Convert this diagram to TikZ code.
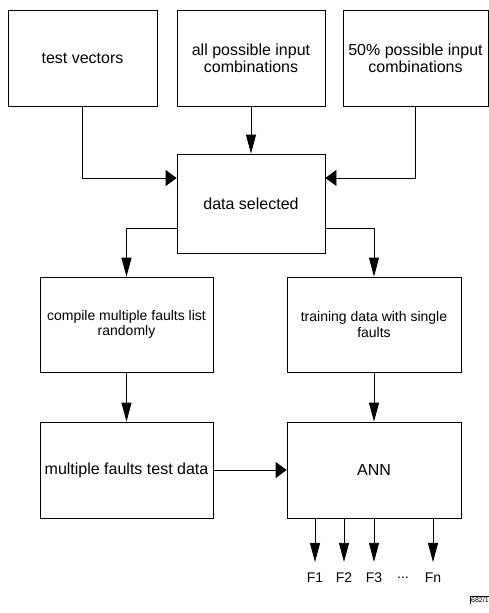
\documentclass[tikz,border=0pt]{standalone}
\usepackage{fontspec}
\setmainfont{Liberation Sans}
\usetikzlibrary{arrows.meta}
\tikzset{
  flowbox/.style={draw, line width=0.8pt, align=center, inner sep=1pt, font=\fontsize{16}{17}\selectfont},
  smallbox/.style={flowbox, font=\fontsize{14}{15.5}\selectfont},
  outlbl/.style={inner sep=1pt, font=\fontsize{14}{15}\selectfont},
  varr/.style={line width=0.8pt, -{Triangle[length=19pt,width=10pt]}},
  harr/.style={line width=0.8pt, -{Triangle[length=11pt,width=16pt]}},
}
\begin{document}
\begin{tikzpicture}[x=1pt,y={(0pt,-1pt)}]
\useasboundingbox (0,0) rectangle (489,613);
\node[flowbox, minimum width=149pt, minimum height=96pt] (tv) at (82.5,58) {test vectors};
\node[flowbox, minimum width=148pt, minimum height=96pt] (allin) at (251,58) {all possible input\\combinations};
\node[flowbox, minimum width=145pt, minimum height=96pt] (half) at (415.5,58) {50\% possible input\\combinations};
\node[flowbox, minimum width=148pt, minimum height=99pt] (dsel) at (251,203.5) {data selected};
\node[smallbox, minimum width=173pt, minimum height=95pt] (comp) at (126.5,324.5) {compile multiple faults list\\randomly};
\node[smallbox, minimum width=174pt, minimum height=95pt] (train) at (374,324.5) {training data with single\\faults};
\node[flowbox, minimum width=173pt, minimum height=96pt] (mult) at (126.5,470) {multiple faults test data};
\node[flowbox, minimum width=174pt, minimum height=96pt] (ann) at (374,470) {ANN};
% outputs of the network
\foreach \name/\x/\lbl in {f1/315/F1, f2/344/F2, f3/374/F3, fn/433/Fn}
  \node[outlbl] (\name) at (\x,578) {\lbl};
\node[outlbl] (dots) at (403,578) {...};
\node[inner sep=1pt, anchor=west, font=\fontsize{7}{8}\selectfont] (tag) at (470,600) {682/1};
\draw[line width=0.5pt] (tag.south west) |- (tag.north east);
% connectors
\draw[harr] (tv.south) |- ([yshift=25.5pt]dsel.west);
\draw[varr] (allin) -- (dsel);
\draw[harr] (half.south) |- ([yshift=25.5pt]dsel.east);
\draw[varr] ([yshift=-24.5pt]dsel.west) -| (comp.north);
\draw[varr] ([yshift=-24.5pt]dsel.east) -| (train.north);
\draw[varr] (comp) -- (mult);
\draw[varr] (train) -- (ann);
\draw[harr] (mult) -- (ann);
\foreach \name in {f1,f2,f3,fn}
  \draw[varr] (ann.south -| \name) -- ([yshift=10pt]\name.north);
\end{tikzpicture}
\end{document}
